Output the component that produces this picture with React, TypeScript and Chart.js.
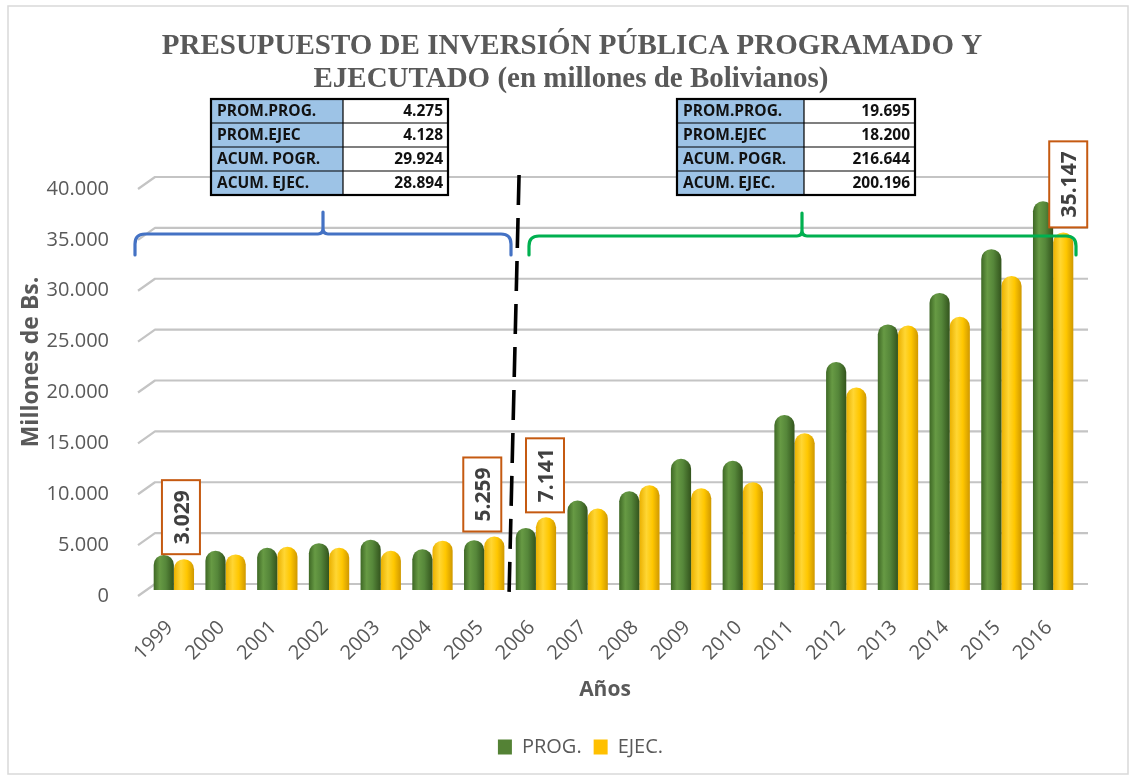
import React, { useEffect, useRef } from "react";
import { Chart, registerables } from "chart.js";

Chart.register(...registerables);

// ---------- data ----------
const years = ["1999", "2000", "2001", "2002", "2003", "2004", "2005", "2006", "2007", "2008", "2009", "2010", "2011", "2012", "2013", "2014", "2015", "2016"];
const progValues = [3450, 3850, 4150, 4600, 4950, 4000, 4900, 6100, 8800, 9700, 12900, 12700, 17200, 22400, 26100, 29200, 33500, 38200];
const ejecValues = [3029, 3500, 4250, 4150, 3850, 4850, 5259, 7141, 8000, 10300, 10000, 10600, 15400, 19900, 26000, 26850, 30850, 35147];
const seriesNames = ["PROG.", "EJEC."];
const yTicksMax = 40000;
const yTicksStep = 5000;

const titleLines = ["PRESUPUESTO DE INVERSIÓN PÚBLICA PROGRAMADO Y", "EJECUTADO (en millones de Bolivianos)"];
const tableLabels = ["PROM.PROG.", "PROM.EJEC", "ACUM. POGR.", "ACUM. EJEC."];
const tableLeftValues = ["4.275", "4.128", "29.924", "28.894"];
const tableRightValues = ["19.695", "18.200", "216.644", "200.196"];
const labeledEjecIndices = [0, 6, 7, 17];
const labelBoxDx = [-3, -12, -1, 5];
const yAxisTitle = "Millones de Bs.";
const xAxisTitle = "Años";

// ---------- style ----------
const GRAY = "#595959";
const GREEN = "#548235";
const YELLOW = "#FFC000";
const FONT = "'Open Sans', 'Noto Sans', sans-serif";

const fmt = (v: number) => String(Math.round(v)).replace(/\B(?=(\d{3})+(?!\d))/g, ".");

const gridPlugin = {
  id: "grid3d",
  beforeDatasetsDraw(chart: any) {
    const ctx = chart.ctx;
    const y = chart.scales.y;
    const { left, right } = chart.chartArea;
    ctx.save();
    ctx.strokeStyle = "#c4c4c4";
    ctx.lineWidth = 2.2;
    ctx.lineJoin = "round";
    y.ticks.forEach((t: any) => {
      const p = y.getPixelForValue(t.value);
      ctx.beginPath();
      ctx.moveTo(left - 10, p + 6);
      ctx.lineTo(left + 7, p - 6);
      ctx.lineTo(right + 9, p - 6);
      ctx.stroke();
    });
    ctx.restore();

    // cylinder shading for each bar
    chart.data.datasets.forEach((ds: any, di: number) => {
      const meta = chart.getDatasetMeta(di);
      meta.data.forEach((el: any) => {
        const w = el.width;
        const x0 = el.x - w / 2;
        const g = ctx.createLinearGradient(x0, 0, x0 + w, 0);
        if (di === 0) {
          g.addColorStop(0, "#3e6825");
          g.addColorStop(0.3, "#679a44");
          g.addColorStop(0.6, "#56873a");
          g.addColorStop(1, "#33541d");
        } else {
          g.addColorStop(0, "#eab000");
          g.addColorStop(0.35, "#ffd633");
          g.addColorStop(0.65, "#ffc700");
          g.addColorStop(1, "#cf9800");
        }
        el.options = Object.assign({}, el.options, { backgroundColor: g });
      });
    });
  },
};

function drawTable(ctx: any, x: number, y: number, w1: number, w2: number, rowH: number, labels: string[], values: string[]) {
  const h = rowH * labels.length;
  ctx.fillStyle = "#9DC3E6";
  ctx.fillRect(x, y, w1, h);
  ctx.fillStyle = "#ffffff";
  ctx.fillRect(x + w1, y, w2, h);
  ctx.strokeStyle = "#000";
  ctx.lineWidth = 1.2;
  ctx.beginPath();
  for (let i = 1; i < labels.length; i++) {
    ctx.moveTo(x, y + i * rowH);
    ctx.lineTo(x + w1 + w2, y + i * rowH);
  }
  ctx.moveTo(x + w1, y);
  ctx.lineTo(x + w1, y + h);
  ctx.stroke();
  ctx.lineWidth = 2.2;
  ctx.strokeRect(x, y, w1 + w2, h);
  ctx.font = `bold 15.5px ${FONT}`;
  ctx.fillStyle = "#111";
  ctx.textBaseline = "middle";
  labels.forEach((l, i) => {
    ctx.textAlign = "left";
    ctx.fillText(l, x + 6, y + i * rowH + rowH / 2 + 1);
    ctx.textAlign = "right";
    ctx.fillText(values[i], x + w1 + w2 - 5, y + i * rowH + rowH / 2 + 1);
  });
}

function drawBrace(ctx: any, x1: number, x2: number, xm: number, yLine: number, yEnd: number, yTip: number, color: string) {
  const r = 10;
  ctx.save();
  ctx.strokeStyle = color;
  ctx.lineWidth = 3.2;
  ctx.lineCap = "round";
  ctx.beginPath();
  ctx.moveTo(x1, yEnd);
  ctx.lineTo(x1, yLine + r);
  ctx.quadraticCurveTo(x1, yLine, x1 + r, yLine);
  ctx.lineTo(xm - 5, yLine);
  ctx.quadraticCurveTo(xm, yLine, xm, yLine - 6);
  ctx.lineTo(xm, yTip);
  ctx.moveTo(xm, yLine - 6);
  ctx.quadraticCurveTo(xm, yLine, xm + 5, yLine);
  ctx.lineTo(x2 - r, yLine);
  ctx.quadraticCurveTo(x2, yLine, x2, yLine + r);
  ctx.lineTo(x2, yEnd);
  ctx.stroke();
  ctx.restore();
}

const decorPlugin = {
  id: "decor",
  afterDraw(chart: any) {
    const ctx = chart.ctx;
    const xs = chart.scales.x;
    const area = chart.chartArea;
    ctx.save();

    // frame
    ctx.strokeStyle = "#d9d9d9";
    ctx.lineWidth = 1.5;
    ctx.strokeRect(8, 6, 1120, 768);

    // title
    ctx.fillStyle = GRAY;
    ctx.font = "bold 29px 'Liberation Serif', 'Times New Roman', serif";
    ctx.textAlign = "center";
    ctx.textBaseline = "alphabetic";
    ctx.fillText(titleLines[0], 572, 54);
    ctx.fillText(titleLines[1], 571, 87);

    // tables
    drawTable(ctx, 211, 99, 132, 105, 24, tableLabels, tableLeftValues);
    drawTable(ctx, 677, 99, 127, 111, 24, tableLabels, tableRightValues);

    // braces
    drawBrace(ctx, 135, 511, 323, 234, 255, 212, "#4472C4");
    drawBrace(ctx, 529, 1076, 802, 236, 255, 213, "#00B050");

    // dashed separator between 2005 and 2006
    const mid = xs.getPixelForValue(6.5);
    ctx.save();
    ctx.strokeStyle = "#000";
    ctx.lineWidth = 3.6;
    ctx.setLineDash([30, 13]);
    ctx.beginPath();
    ctx.moveTo(mid + 9, 175);
    ctx.lineTo(mid - 1, area.bottom + 4);
    ctx.stroke();
    ctx.restore();

    // value label boxes
    const meta = chart.getDatasetMeta(1);
    labeledEjecIndices.forEach((idx, k) => {
      const el: any = meta.data[idx];
      const txt = fmt(ejecValues[idx]);
      ctx.font = `bold 21px ${FONT}`;
      const tw = ctx.measureText(txt).width;
      const bw = 38;
      const bh = tw + 20;
      const cx = el.x + labelBoxDx[k];
      const bottom = el.y - 5;
      ctx.fillStyle = "#ffffff";
      ctx.fillRect(cx - bw / 2, bottom - bh, bw, bh);
      ctx.strokeStyle = "#C55A11";
      ctx.lineWidth = 2;
      ctx.strokeRect(cx - bw / 2, bottom - bh, bw, bh);
      ctx.save();
      ctx.translate(cx + 1, bottom - bh / 2);
      ctx.rotate(-Math.PI / 2);
      ctx.fillStyle = "#404040";
      ctx.textAlign = "center";
      ctx.textBaseline = "middle";
      ctx.fillText(txt, 0, 1);
      ctx.restore();
    });

    // axis titles
    ctx.fillStyle = GRAY;
    ctx.font = `bold 23px ${FONT}`;
    ctx.save();
    ctx.translate(31, 362);
    ctx.rotate(-Math.PI / 2);
    ctx.textAlign = "center";
    ctx.textBaseline = "middle";
    ctx.fillText(yAxisTitle, 0, 0);
    ctx.restore();

    ctx.font = `bold 21px ${FONT}`;
    ctx.textAlign = "center";
    ctx.textBaseline = "middle";
    ctx.fillText(xAxisTitle, 605, 690);

    ctx.restore();
  },
};

export default function App() {
  const ref = useRef<HTMLCanvasElement>(null);

  useEffect(() => {
    document.body.style.margin = "0";
    const chart = new Chart(ref.current as HTMLCanvasElement, {
      type: "bar",
      data: {
        labels: years,
        datasets: [
          {
            label: seriesNames[0],
            data: progValues,
            backgroundColor: GREEN,
            yAxisID: "y",
            borderRadius: { topLeft: 10, topRight: 10, bottomLeft: 0, bottomRight: 0 },
            borderSkipped: false,
            barPercentage: 1.0,
            categoryPercentage: 0.78,
          },
          {
            label: seriesNames[1],
            data: ejecValues,
            backgroundColor: YELLOW,
            yAxisID: "y",
            borderRadius: { topLeft: 10, topRight: 10, bottomLeft: 0, bottomRight: 0 },
            borderSkipped: false,
            barPercentage: 1.0,
            categoryPercentage: 0.78,
          },
        ],
      },
      options: {
        responsive: false,
        animation: false,
        devicePixelRatio: 1,
        layout: { padding: { top: 183, left: 26, right: 0, bottom: 12 } },
        scales: {
          y: {
            type: "linear",
            position: "left",
            min: 0,
            max: yTicksMax,
            grid: { display: false },
            border: { display: false },
            ticks: {
              stepSize: yTicksStep,
              padding: 31,
              labelOffset: 6,
              color: GRAY,
              font: { family: FONT, size: 20 },
              callback: (v: any) => fmt(Number(v)),
            },
            afterFit: (s: any) => {
              s.width = 122;
            },
          },
          yR: {
            type: "linear",
            position: "right",
            display: true,
            grid: { display: false },
            border: { display: false },
            ticks: { display: false },
            afterFit: (s: any) => {
              s.width = 56;
            },
          },
          x: {
            type: "category",
            grid: { display: false },
            border: { display: false },
            ticks: {
              autoSkip: false,
              maxRotation: 45,
              minRotation: 45,
              padding: 18,
              labelOffset: -4,
              color: GRAY,
              font: { family: FONT, size: 20 },
            },
            afterFit: (s: any) => {
              s.height = 135;
            },
          },
        },
        plugins: {
          legend: {
            position: "bottom",
            labels: {
              color: GRAY,
              font: { family: FONT, size: 20 },
              boxWidth: 14,
              boxHeight: 15,
              padding: 12,
            },
          },
          tooltip: { enabled: false },
        },
      },
      plugins: [gridPlugin, decorPlugin],
    } as any);
    return () => chart.destroy();
  }, []);

  return (
    <div style={{ position: "absolute", left: 0, top: 0, width: 1135, height: 779, background: "#ffffff" }}>
      <canvas ref={ref} width={1135} height={779} style={{ display: "block" }} />
    </div>
  );
}
